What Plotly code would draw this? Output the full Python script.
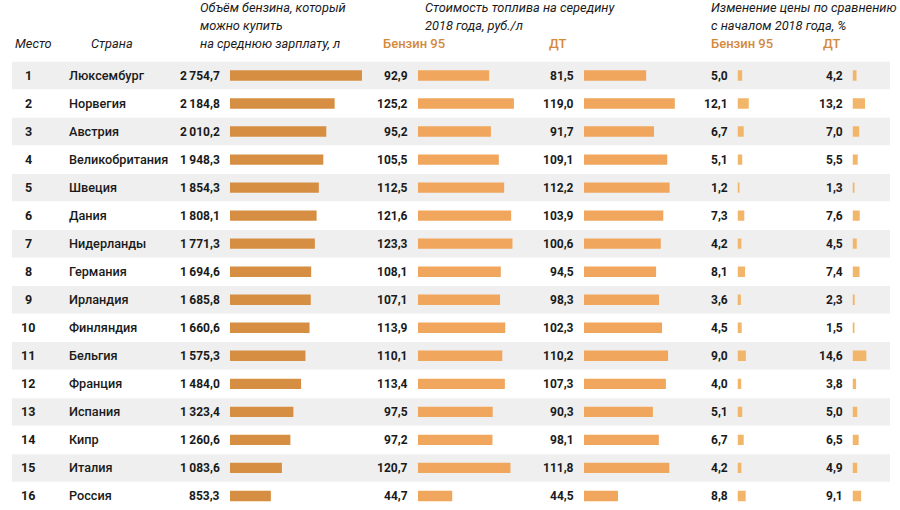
import plotly.graph_objects as go

# ---------------- data ----------------
ranks = list(range(1, 17))
countries = ["Люксембург", "Норвегия", "Австрия", "Великобритания", "Швеция", "Дания",
             "Нидерланды", "Германия", "Ирландия", "Финляндия", "Бельгия", "Франция",
             "Испания", "Кипр", "Италия", "Россия"]
volume_l = [2754.7, 2184.8, 2010.2, 1948.3, 1854.3, 1808.1, 1771.3, 1694.6, 1685.8,
            1660.6, 1575.3, 1484.0, 1323.4, 1260.6, 1083.6, 853.3]
price_95 = [92.9, 125.2, 95.2, 105.5, 112.5, 121.6, 123.3, 108.1, 107.1, 113.9, 110.1,
            113.4, 97.5, 97.2, 120.7, 44.7]
price_dt = [81.5, 119.0, 91.7, 109.1, 112.2, 103.9, 100.6, 94.5, 98.3, 102.3, 110.2,
            107.3, 90.3, 98.1, 111.8, 44.5]
change_95 = [5.0, 12.1, 6.7, 5.1, 1.2, 7.3, 4.2, 8.1, 3.6, 4.5, 9.0, 4.0, 5.1, 6.7, 4.2, 8.8]
change_dt = [4.2, 13.2, 7.0, 5.5, 1.3, 7.6, 4.5, 7.4, 2.3, 1.5, 14.6, 3.8, 5.0, 6.5, 4.9, 9.1]

hdr_rank = "Место"
hdr_country = "Страна"
hdr_volume = ["Объём бензина, который", "можно купить", "на среднюю зарплату, л"]
hdr_price = ["Стоимость топлива на середину", "2018 года, руб./л"]
hdr_change = ["Изменение цены по сравнению", "с началом 2018 года, %"]
sub_95 = "Бензин 95"
sub_dt = "ДТ"

# ---------------- styling ----------------
W, H = 900, 510
ROW0, ROWSTEP = 75.5, 28.03
NUM_FONT = "Roboto, Liberation Sans, sans-serif"
TXT_FONT = "Roboto, Liberation Sans, sans-serif"
HDR_FONT = "Roboto, Liberation Sans, sans-serif"
DARK = "#1a1a1a"
ORANGE_TXT = "#d4893c"
BAND = "#efefef"

def px_x(p):
    return p / W

def px_y(p):
    return 1 - p / H

def fmt(v):
    s = f"{v:,.1f}"
    return s.replace(",", "\u2009").replace(".", ",")

# columns: (values, bar start px, px per unit, color)
columns = [
    (volume_l, 230.0, 0.0479, "#d68e42"),
    (price_95, 418.0, 0.766, "#f0a65c"),
    (price_dt, 584.0, 0.763, "#f0a65c"),
    (change_95, 737.5, 0.93, "#f2b66a"),
    (change_dt, 852.5, 0.95, "#f2b66a"),
]

fig = go.Figure()

y_top = 1 - ROW0 / ROWSTEP
y_bot = 1 + (H - ROW0) / ROWSTEP

annotations = []
layout_axes = {}
for k, (vals, start, scale, color) in enumerate(columns):
    axname = "x" if k == 0 else f"x{k+1}"
    key = "xaxis" if k == 0 else f"xaxis{k+1}"
    end = start + 150 if k == 0 else start + 110
    if k >= 3:
        end = start + 30
    layout_axes[key] = dict(domain=[px_x(start), px_x(end)],
                            range=[0, (end - start) / scale],
                            visible=False, fixedrange=True,
                            anchor="y")
    fig.add_trace(go.Bar(x=vals, y=ranks, orientation="h", xaxis=axname, yaxis="y",
                         width=0.37, marker=dict(color=color, line=dict(width=0)),
                         hoverinfo="skip", showlegend=False))
    for r, v in zip(ranks, vals):
        annotations.append(dict(x=0, y=r, xref=axname, yref="y", text=fmt(v),
                                showarrow=False, xanchor="right", yanchor="middle",
                                xshift=-8, font=dict(family=NUM_FONT, size=12,
                                                     color=DARK, weight="bold")))

# rank and country text
for r, c in zip(ranks, countries):
    annotations.append(dict(x=px_x(28), y=r, xref="paper", yref="y", text=str(r),
                            showarrow=False, xanchor="center", yanchor="middle",
                            font=dict(family=NUM_FONT, size=12.5, color=DARK, weight="bold")))
    annotations.append(dict(x=px_x(67), y=r, xref="paper", yref="y", text=c,
                            showarrow=False, xanchor="left", yanchor="middle",
                            font=dict(family=TXT_FONT, size=12.7, color=DARK, weight=500)))

def header(text, x, y, color=DARK):
    annotations.append(dict(x=px_x(x), y=px_y(y), xref="paper", yref="paper", text=text,
                            showarrow=False, xanchor="left", yanchor="middle",
                            font=dict(family=HDR_FONT, size=12.8, color=color,
                                      style="italic")))

header(hdr_rank, 13, 43)
header(hdr_country, 89, 43)
for i, line in enumerate(hdr_volume):
    header(line, 198, 8 + i * 17.5)
for i, line in enumerate(hdr_price):
    header(line, 423, 8 + i * 17.5)
for i, line in enumerate(hdr_change):
    header(line, 709, 8 + i * 17.5)

def sub(text, x, y):
    annotations.append(dict(x=px_x(x), y=px_y(y), xref="paper", yref="paper", text=text,
                            showarrow=False, xanchor="left", yanchor="middle",
                            font=dict(family=NUM_FONT, size=13, color=ORANGE_TXT,
                                      weight=500)))

sub(sub_95, 381, 43)
sub(sub_dt, 547, 43)
sub(sub_95, 709, 43)
sub(sub_dt, 821, 43)

# alternating row bands
shapes = []
for r in ranks:
    if r % 2 == 1:
        shapes.append(dict(type="rect", xref="paper", yref="y", x0=px_x(12), x1=px_x(890),
                           y0=r - 0.49, y1=r + 0.49, fillcolor=BAND,
                           line=dict(width=0), layer="below"))

fig.update_layout(
    width=W, height=H,
    margin=dict(l=0, r=0, t=0, b=0),
    paper_bgcolor="white", plot_bgcolor="rgba(0,0,0,0)",
    yaxis=dict(range=[y_bot, y_top], visible=False, fixedrange=True, domain=[0, 1]),
    annotations=annotations, shapes=shapes,
    showlegend=False, barmode="overlay",
    **layout_axes,
)

fig.write_html("out.html",
               config={"displayModeBar": False},
               post_script="document.body.style.margin='0';document.body.style.overflow='hidden';")
